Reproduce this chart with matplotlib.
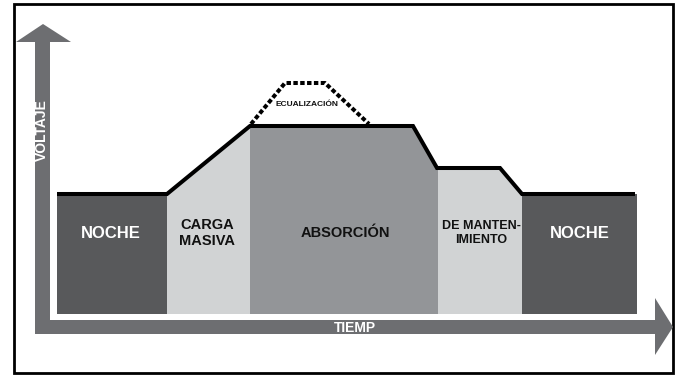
import numpy as np
import matplotlib
matplotlib.use('agg')
import matplotlib.pyplot as plt
from matplotlib.patches import Polygon, Rectangle

# phases of the charge cycle (x in pixels of the original drawing)
phase_names = ["NOCHE", "CARGA\nMASIVA", "ABSORCIÓN", "DE MANTEN-\nIMIENTO", "NOCHE"]
phase_edges = [57, 167, 250, 438, 522, 637]
phase_colors = ["#58595b", "#d1d3d4", "#939598", "#d1d3d4", "#58595b"]
phase_text_colors = ["white", "#111111", "#111111", "#111111", "white"]
phase_label_x = [111, 207, 345, 481, 580]
phase_font_sizes = [12, 10.5, 10.5, 9, 12]

# voltage profile (time, level) - y grows downwards
volt_t = [57, 167, 250, 413, 437, 500, 522, 635]
volt_v = [194, 194, 126, 126, 168, 168, 194, 194]

# equalization bump
eq_t = [251, 285, 325, 369]
eq_v = [124, 83, 83, 124]

bottom = 314
arrow_color = "#6d6e71"
font = ['Liberation Sans', 'DejaVu Sans']


def main():
    fig = plt.figure(figsize=(6.76, 3.75), dpi=100)
    ax = fig.add_axes([0, 0, 1, 1])
    ax.set_xlim(0, 676)
    ax.set_ylim(375, 0)
    ax.axis('off')

    # frame
    ax.add_patch(Rectangle((14, 4), 659, 369, fill=False, edgecolor='black', lw=2))

    # axis arrows
    ax.add_patch(Polygon([(35, 335), (35, 42), (16, 42), (43, 24), (71, 42), (50, 42),
                          (50, 320), (655, 320), (655, 298), (673, 327), (655, 355),
                          (655, 334), (35, 334)], closed=True, facecolor=arrow_color,
                         edgecolor='none'))

    # phase blocks, top follows the voltage line
    for i in range(len(phase_names)):
        a, b = phase_edges[i], phase_edges[i + 1]
        xs = [a] + [t for t in volt_t if a < t < b] + [b]
        ys = list(np.interp(xs, volt_t, volt_v))
        pts = [(a, bottom)] + list(zip(xs, ys)) + [(b, bottom)]
        ax.add_patch(Polygon(pts, closed=True, facecolor=phase_colors[i], edgecolor='none'))

    ax.plot(volt_t, volt_v, color='black', lw=2.9, solid_capstyle='butt',
            solid_joinstyle='miter')
    ax.plot(eq_t, eq_v, color='black', lw=2.9, dashes=(1.1, 0.6), dash_capstyle='butt')

    for i, name in enumerate(phase_names):
        ax.text(phase_label_x[i], 233, name, ha='center', va='center',
                fontsize=phase_font_sizes[i], fontweight='bold', family=font,
                color=phase_text_colors[i], linespacing=1.15)

    ax.text(307, 105, "ECUALIZACIÓN", ha='center', va='center', fontsize=6,
            fontweight='bold', family=font, color='#111111')
    ax.text(42, 130, "VOLTAJE", ha='center', va='center', rotation=90, fontsize=10,
            fontweight='bold', family=font, color='white')
    ax.text(355, 327.5, "TIEMP", ha='center', va='center', fontsize=10,
            fontweight='bold', family=font, color='white')

    fig.savefig('out.png', dpi=100)


if "__main__" == __name__:
    main()
